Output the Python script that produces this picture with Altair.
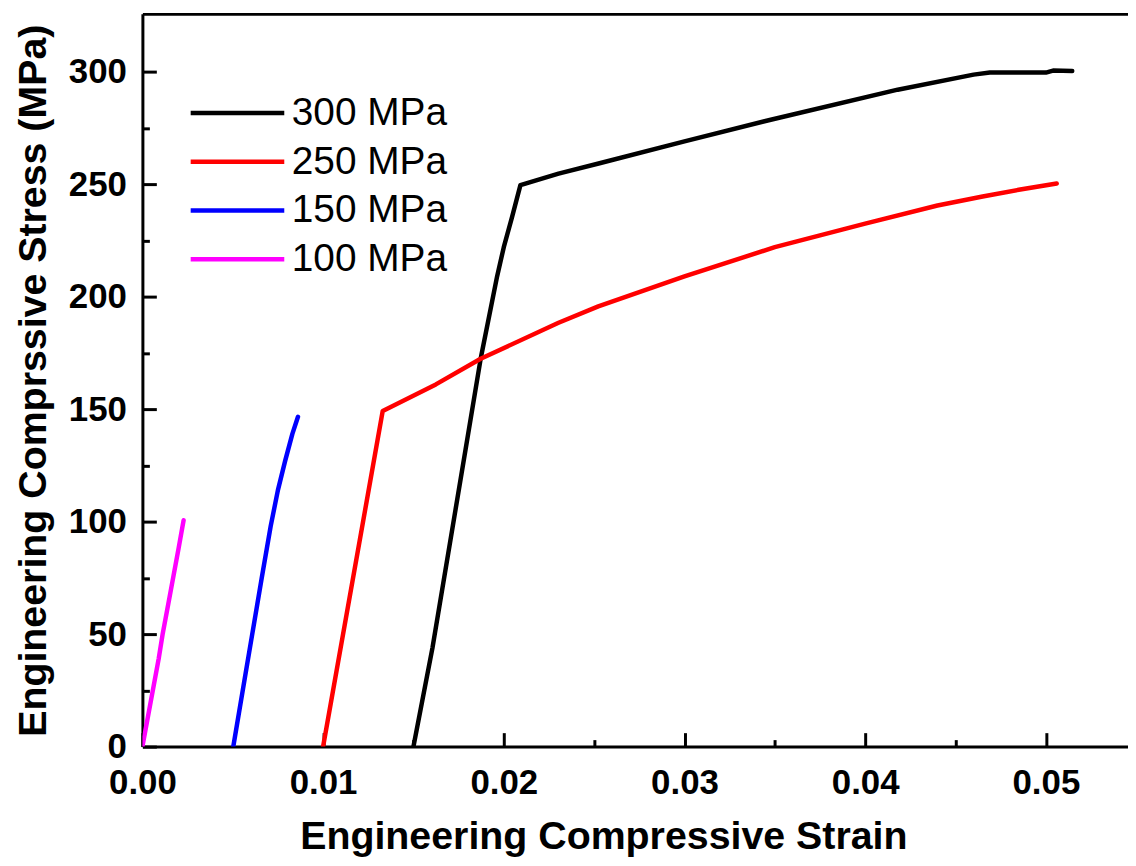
import altair as alt
import pandas as pd

series = ["300 MPa", "250 MPa", "150 MPa", "100 MPa"]
colors = ["#000000", "#ff0000", "#0000ff", "#ff00ff"]

strain_300 = [0.0150, 0.01605, 0.01789, 0.01872, 0.01963, 0.02000, 0.02046, 0.02092,
              0.02303, 0.0253, 0.0300, 0.0346, 0.0418, 0.0460, 0.0469, 0.0500, 0.0504, 0.05146]
stress_300 = [0, 43.8, 132.3, 172.4, 209, 222, 235.5, 249.6,
              254.7, 259.3, 269.0, 278.3, 292.0, 298.7, 299.6, 299.6, 300.5, 300.3]

strain_250 = [0.0100, 0.0133, 0.01624, 0.01872, 0.02303, 0.02523, 0.0300, 0.0350,
              0.0400, 0.0440, 0.0465, 0.0485, 0.0506]
stress_250 = [0, 149.2, 161.0, 172.4, 188.4, 195.7, 209.0, 222.0,
              232.5, 240.5, 244.5, 247.5, 250.3]

strain_150 = [0.00503, 0.00567, 0.0066, 0.0071, 0.0075, 0.0079, 0.0083, 0.00861]
stress_150 = [0, 30.5, 74.8, 98, 114, 127, 139, 146.6]

strain_100 = [0.0, 0.0003, 0.0006, 0.0009, 0.00112, 0.0014, 0.0017, 0.0020, 0.0022, 0.00228]
stress_100 = [0, 13, 26, 39, 50, 62, 75, 88, 97, 100.6]

x_major = [0.0, 0.01, 0.02, 0.03, 0.04, 0.05]
x_minor = [0.005, 0.015, 0.025, 0.035, 0.045]
y_major = [0, 50, 100, 150, 200, 250, 300]
y_minor = [25, 75, 125, 175, 225, 275]

X_MAX = 0.054545
Y_MAX = 325.7

rows = []
for name, xs, ys in [(series[0], strain_300, stress_300), (series[1], strain_250, stress_250),
                     (series[2], strain_150, stress_150), (series[3], strain_100, stress_100)]:
    for i, (a, b) in enumerate(zip(xs, ys)):
        rows.append({"strain": a, "stress": b, "series": name, "idx": i})
df = pd.DataFrame(rows)

x_scale = alt.Scale(domain=[0, X_MAX], nice=False, zero=False)
y_scale = alt.Scale(domain=[0, Y_MAX], nice=False, zero=False)

lines = alt.Chart(df).mark_line(strokeWidth=4.5, strokeCap="round", strokeJoin="round", clip=True).encode(
    x=alt.X("strain:Q", scale=x_scale,
            axis=alt.Axis(orient="bottom", values=x_major, format=".2f",
                          title="Engineering Compressive Strain",
                          tickSize={"expr": "-14"}, labelPadding=33, titlePadding=17,
                          titleX=463, titleAlign="center",
                          labelFlush=False, labelOverlap=False)),
    y=alt.Y("stress:Q", scale=y_scale,
            axis=alt.Axis(orient="left", values=y_major, format="d",
                          title="Engineering Comprssive Stress (MPa)",
                          tickSize={"expr": "-14"}, labelPadding=30, titlePadding=15,
                          labelFlush=False, labelOverlap=False)),
    color=alt.Color("series:N", scale=alt.Scale(domain=series, range=colors),
                    legend=alt.Legend(title=None, orient="none", legendX=74, legendY=78,
                                      symbolType="M-2.5,0L2.5,0", symbolSize=1414,
                                      symbolStrokeWidth=4.5, labelFont="Liberation Sans",
                                      labelFontSize=39, labelFontWeight="normal",
                                      labelColor="black", labelOffset=33, rowPadding=7,
                                      padding=0, labelLimit=400)),
    order=alt.Order("idx:Q"),
)

minor = alt.Chart(df).mark_point(opacity=0).encode(
    x=alt.X("strain:Q", scale=x_scale,
            axis=alt.Axis(orient="bottom", values=x_minor, labels=False, domain=False,
                          title=None, tickSize={"expr": "-7"})),
    y=alt.Y("stress:Q", scale=y_scale,
            axis=alt.Axis(orient="left", values=y_minor, labels=False, domain=False,
                          title=None, tickSize={"expr": "-7"})),
)

top = alt.Chart(df).mark_point(opacity=0).encode(
    x=alt.X("strain:Q", scale=x_scale,
            axis=alt.Axis(orient="top", ticks=False, labels=False, title=None)),
    y=alt.Y("stress:Q", scale=y_scale, axis=None),
)

chart = alt.layer(lines, minor, top).resolve_axis(x="independent", y="independent").properties(
    width=990, height=736,
    padding={"left": 5, "top": 4, "right": 0, "bottom": 0},
    background="white",
).configure_axis(
    grid=False, domainColor="black", tickColor="black", labelColor="black", titleColor="black",
    domainWidth=3, tickWidth=3, labelFont="Liberation Sans", labelFontSize=35,
    labelFontWeight="bold", titleFont="Liberation Sans", titleFontSize=39.5, titleFontWeight="bold",
).configure_view(stroke=None)

chart.save("out.html", embed_options={"renderer": "svg", "actions": False})
